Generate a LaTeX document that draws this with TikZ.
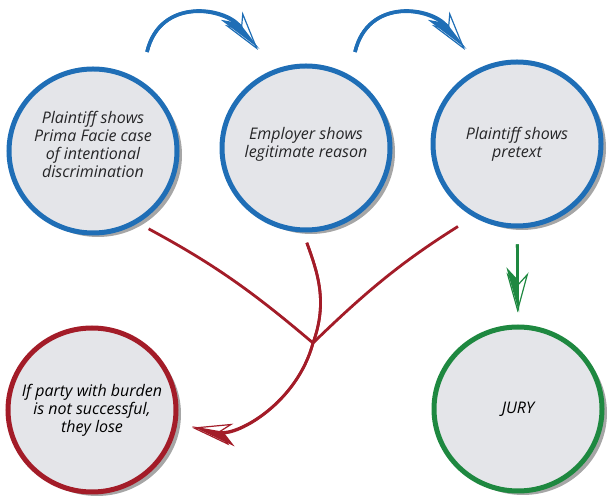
\documentclass[tikz,border=0pt]{standalone}
\usepackage{fontspec}
\setmainfont{Open Sans}
\usetikzlibrary{shapes.geometric,arrows.meta,shadows}
\definecolor{stageblue}{RGB}{31,110,182}
\definecolor{failred}{RGB}{163,28,40}
\definecolor{wingreen}{RGB}{30,136,64}
\definecolor{stagefill}{RGB}{228,229,233}
\definecolor{stageink}{RGB}{38,38,40}

\begin{document}
\begin{tikzpicture}[
      x=1pt, y=1pt,
      stage/.style={ellipse,draw=#1,line width=5pt,fill=stagefill,minimum width=168pt,minimum height=164pt,
        drop shadow={shadow xshift=5pt,shadow yshift=-4pt,opacity=0.35,fill=black}},
      stagetext/.style={font=\itshape\fontsize{16}{18}\selectfont,text=stageink,align=center},
      open head/.style={-{Stealth[open,length=40pt,width=22pt,inset=12pt,line width=1.2pt]}},
      half head/.style={postaction={draw,-{Stealth[harpoon,#1,length=40pt,width=22pt,inset=12pt]}}},
      shift arrow/.style={stageblue,line width=3.5pt,open head,half head=swap},
      fail/.style={failred,line width=2.8pt},
      win arrow/.style={wingreen,line width=2.8pt,open head,half head=swap}
    ]
    \useasboundingbox (0,0) rectangle (607,497);
    % Draw the stages.
    \node[stage=stageblue] (prima)   at (93,346)  {};
    \node[stage=stageblue] (reason)  at (306,349) {};
    \node[stage=stageblue] (pretext) at (517,353) {};
    \node[stage=failred]   (lose)    at (92,87)   {};
    \node[stage=wingreen]  (jury)    at (518,88)  {};
    % Put the texts in.
    \node[stagetext] (prima-text)   at ([yshift=7pt]prima)   {Plaintiff shows\\Prima Facie case\\of intentional\\discrimination};
    \node[stagetext] (reason-text)  at ([yshift=4pt]reason)  {Employer shows\\legitimate reason};
    \node[stagetext] (pretext-text) at (pretext) {Plaintiff shows\\pretext};
    \node[stagetext,text=black] (lose-text) at (lose) {If party with burden\\is not successful,\\they lose};
    \node[stagetext,text=black] (jury-text) at (jury) {JURY};
    % Draw the burden shifts.
    \draw[shift arrow] ([shift={(54,99)}]prima.center) .. controls +(13,55) and +(-33,43) .. ([shift={(-48,98)}]reason.center);
    \draw[shift arrow] ([shift={(49,96)}]reason.center) .. controls +(13,55) and +(-33,43) .. ([shift={(-52,94)}]pretext.center);
    % Draw the outcomes.
    \coordinate (merge) at (313,154);
    \draw[fail,shorten <=12pt] (prima.-58) to[bend left=6] (merge);
    \draw[fail,shorten <=18pt] (pretext.-121) to[bend right=6] (merge);
    \draw[fail,open head,half head,shorten <=11pt,shorten >=15pt] (reason.-92) to[out=-70,in=70] (merge) to[out=-105,in=-10] (lose);
    \draw[win arrow,shorten <=16pt,shorten >=12pt] (pretext) -- (jury);
\end{tikzpicture}
\end{document}
